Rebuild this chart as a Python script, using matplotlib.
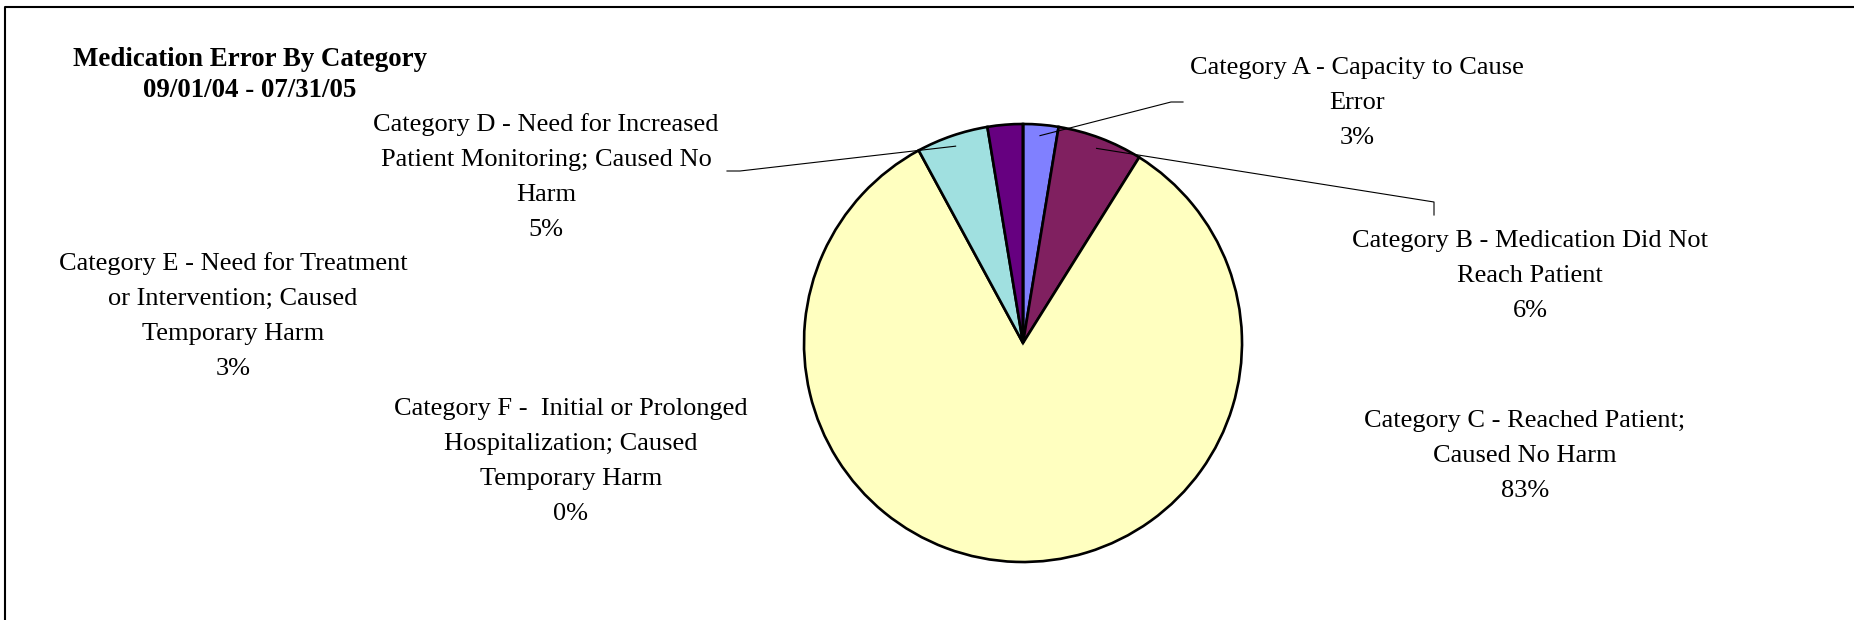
import matplotlib.pyplot as plt
import numpy as np

# datos
categorias = ['Category A - Capacity to Cause\nError',
              'Category B - Medication Did Not\nReach Patient',
              'Category C - Reached Patient;\nCaused No Harm',
              'Category D - Need for Increased\nPatient Monitoring; Caused No\nHarm',
              'Category E - Need for Treatment\nor Intervention; Caused\nTemporary Harm',
              'Category F -  Initial or Prolonged\nHospitalization; Caused\nTemporary Harm']
porcentajes = [2.6, 6.3, 83.2, 5.3, 2.6, 0.0]
colores = ['#8080FF', '#802060', '#FFFFC0', '#A0E0E0', '#660080', '#FFFFFF']

# posiciones de las etiquetas (pixeles de la imagen, y hacia abajo, centro de la 1a linea)
pos_etiquetas = [(1357, 66), (1530, 239), (1525, 419), (546, 122), (233, 261), (571, 407)]
# codo de las lineas guia (solo A, B, D)
guias = {0: [(1171, 102), (1183, 102)], 1: [(1434, 202), (1434, 215)], 3: [(740, 171), (727, 171)]}

W, H = 1854, 620
cx, cy, R = 1023, 343, 219

plt.rcParams['font.family'] = ['Liberation Serif', 'DejaVu Serif']

fig = plt.figure(figsize=(W / 100, H / 100), dpi=100)
ax = fig.add_axes([0, 0, 1, 1])

wedges, _ = ax.pie(porcentajes, colors=colores, startangle=90, counterclock=False,
                   center=(cx, H - cy), radius=R,
                   wedgeprops=dict(edgecolor='black', linewidth=1.9))
ax.set_xlim(0, W)
ax.set_ylim(0, H)
ax.set_aspect('equal')
ax.axis('off')

# etiquetas
for i, (x, y) in enumerate(pos_etiquetas):
    txt = categorias[i] + '\n' + '%.0f%%' % porcentajes[i]
    ax.text(x, H - y + 9, txt, ha='center', va='top', fontsize=19, linespacing=1.76)

# lineas guia
total = sum(porcentajes)
acum = 0
for i, p in enumerate(porcentajes):
    medio = (acum + p / 2) / total * 360
    acum += p
    if i in guias:
        ang = np.deg2rad(90 - medio)
        x0 = cx + 0.95 * R * np.cos(ang)
        y0 = (H - cy) + 0.95 * R * np.sin(ang)
        xs = [x0] + [g[0] for g in guias[i]]
        ys = [y0] + [H - g[1] for g in guias[i]]
        ax.plot(xs, ys, color='black', linewidth=0.8)

# titulo
ax.text(250, H - 47, 'Medication Error By Category\n09/01/04 - 07/31/05', ha='center', va='top',
        fontsize=19.4, fontweight='bold', linespacing=1.3)

# borde (solo arriba e izquierda)
ax.plot([5, 5, W], [0, H - 7, H - 7], color='black', linewidth=1.5)

fig.savefig('out.png', dpi=100)
